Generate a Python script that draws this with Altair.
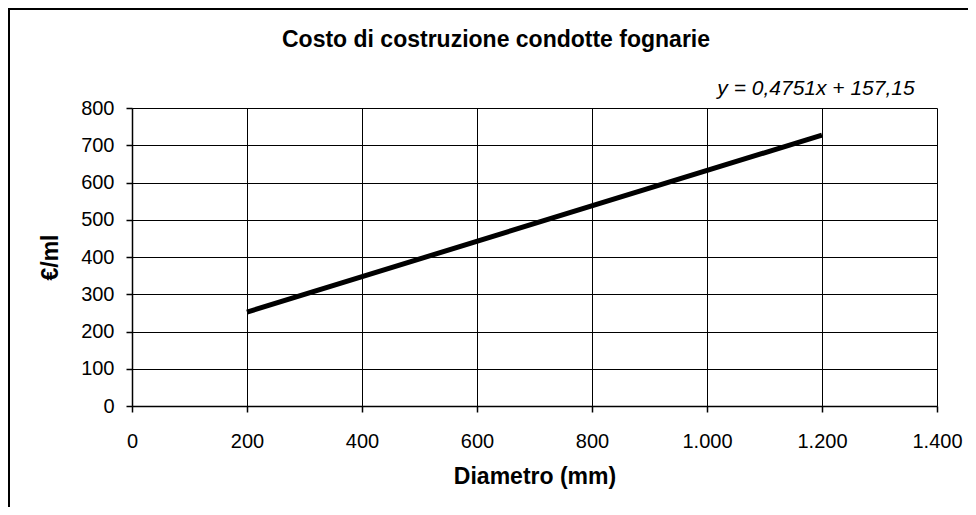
import altair as alt
import pandas as pd

# Data (regression line y = 0.4751x + 157.15)
diametro = [200, 1200]
costo = [252.17, 727.27]

x_ticks = [0, 200, 400, 600, 800, 1000, 1200, 1400]
y_ticks = [0, 100, 200, 300, 400, 500, 600, 700, 800]

title_text = "Costo di costruzione condotte fognarie"
equation_text = "y = 0,4751x + 157,15"
x_title = "Diametro (mm)"
y_title = "€/ml"

FONT = "Liberation Sans"

df = pd.DataFrame({"diametro": diametro, "costo": costo})
one = pd.DataFrame({"a": [0]})

x_enc = alt.X(
    "diametro:Q",
    scale=alt.Scale(domain=[0, 1400], nice=False, zero=True),
    axis=alt.Axis(
        values=x_ticks,
        title=x_title,
        labelExpr="replace(format(datum.value, ','), ',', '.')",
        labelFontSize=20,
        labelPadding=19,
        labelFlush=False,
        labelOverlap=False,
        labelFont=FONT,
        labelColor="black",
        tickSize=6,
        tickColor="black",
        tickWidth=1.5,
        domainColor="black",
        domainWidth=1.5,
        grid=True,
        gridColor="black",
        gridWidth=1,
        gridOpacity=1,
        titleFont=FONT,
        titleFontSize=23,
        titleFontWeight="bold",
        titleColor="black",
        titlePadding=14,
    ),
)
y_enc = alt.Y(
    "costo:Q",
    scale=alt.Scale(domain=[0, 800], nice=False),
    axis=alt.Axis(
        values=y_ticks,
        title=y_title,
        labelFontSize=20,
        labelPadding=12,
        labelFlush=False,
        labelOverlap=False,
        labelFont=FONT,
        labelColor="black",
        tickSize=6,
        tickColor="black",
        tickWidth=1.5,
        domainColor="black",
        domainWidth=1.5,
        grid=True,
        gridColor="black",
        gridWidth=1,
        gridOpacity=1,
        titleFont=FONT,
        titleFontSize=23,
        titleFontWeight="bold",
        titleColor="black",
        titlePadding=18,
    ),
)

line = alt.Chart(df).mark_line(color="black", strokeWidth=5, strokeCap="butt").encode(
    x=x_enc, y=y_enc
)

equation = alt.Chart(one).mark_text(
    text=equation_text, font=FONT, fontSize=21, fontStyle="italic",
    align="center", baseline="middle", color="black",
).encode(x=alt.value(684), y=alt.value(-19))

title = alt.Chart(one).mark_text(
    text=title_text, font=FONT, fontSize=23, fontWeight="bold",
    align="center", baseline="middle", color="black",
).encode(x=alt.value(364), y=alt.value(-68))

border = alt.Chart(one).mark_rect(
    fill=None, stroke="black", strokeWidth=2,
).encode(x=alt.value(-123), x2=alt.value(950), y=alt.value(-99), y2=alt.value(500))

chart = alt.layer(border, line, equation, title).properties(
    width=805,
    height=298,
    autosize=alt.AutoSizeParams(type="none"),
    padding={"left": 124, "top": 100, "right": 31, "bottom": 101},
    background="white",
).configure_view(stroke=None)

chart.save("out.html", embed_options={"renderer": "svg", "actions": False})
